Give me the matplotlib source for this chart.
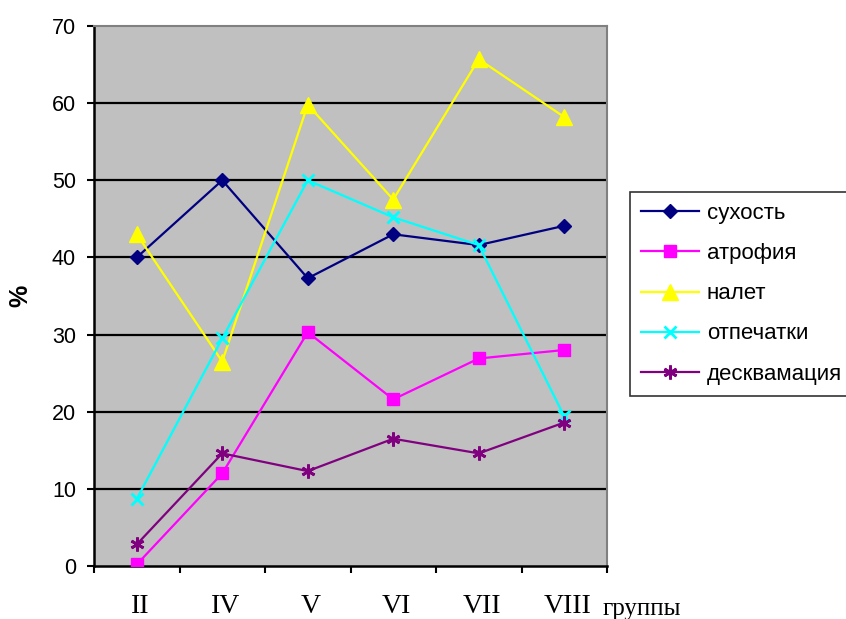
import numpy as np
import matplotlib
matplotlib.use("Agg")
import matplotlib.pyplot as plt

plt.rcParams['font.family'] = ['Liberation Sans', 'DejaVu Sans']

groups = ["II", "IV", "V", "VI", "VII", "VIII"]
dryness = [40.0, 50.0, 37.3, 43.0, 41.6, 44.1]        # сухость
atrophy = [0.2, 12.0, 30.3, 21.6, 26.9, 28.0]         # атрофия
coating = [43.0, 26.5, 59.8, 47.5, 65.7, 58.2]        # налет
imprints = [8.7, 29.5, 50.0, 45.2, 41.6, 19.4]        # отпечатки
desquam = [2.8, 14.6, 12.3, 16.5, 14.6, 18.6]         # десквамация

fig = plt.figure(figsize=(8.46, 6.19), dpi=100)
ax = fig.add_axes([94/846, 1 - 566/619, (607 - 94)/846, (566 - 26)/619])
ax.set_facecolor('#C0C0C0')

x = np.arange(len(groups)) + 0.5
lw = 1.6
ax.plot(x, dryness, '-', color='#000080', lw=lw, marker='D', ms=7, label='сухость', zorder=3)
ax.plot(x, atrophy, '-', color='#FF00FF', lw=lw, marker='s', ms=9, label='атрофия', zorder=3)
ax.plot(x, coating, '-', color='#FFFF00', lw=lw, marker='^', ms=11, label='налет', zorder=3)
ax.plot(x, imprints, '-', color='#00FFFF', lw=lw, marker='x', ms=8, mew=2, label='отпечатки', zorder=3)
ax.plot(x, desquam, '-', color='#800080', lw=lw, marker=(6, 2, 0), ms=10, mew=2,
        label='десквамация', zorder=3)

ax.set_xlim(0, len(groups))
ax.set_ylim(0, 70)
ax.set_yticks(range(0, 71, 10))
for v in range(10, 70, 10):
    ax.axhline(v, color='black', lw=1.6, zorder=1)

# category boundaries carry the tick marks, names sit between them
ax.set_xticks(range(len(groups) + 1))
ax.set_xticklabels([])
ax.set_xticks(x + 0.04, minor=True)
ax.set_xticklabels(groups, minor=True, family='Liberation Serif', fontsize=20)
ax.tick_params(axis='x', which='minor', length=0, pad=20)
ax.tick_params(axis='x', which='major', direction='out', length=5, width=1.5)
ax.tick_params(axis='y', direction='out', length=5, width=1.5, labelsize=15.5, pad=8)
ax.text(0.992, -0.0907, 'группы', transform=ax.transAxes, family='Liberation Serif',
        fontsize=18, ha='left', va='baseline')

for s in ['left', 'bottom']:
    ax.spines[s].set_color('black')
    ax.spines[s].set_linewidth(1.8)
for s in ['top', 'right']:
    ax.spines[s].set_color('#808080')
    ax.spines[s].set_linewidth(1.5)

ax.set_ylabel('%', fontsize=18, fontweight='bold', labelpad=14)

leg = fig.legend(loc='upper left', bbox_to_anchor=(630/846, 1 - 192/619),
                 fontsize=16, frameon=True, fancybox=False, edgecolor='black',
                 handlelength=2.6, handletextpad=0.35, labelspacing=0.86,
                 borderpad=0.5, borderaxespad=0)
leg.get_frame().set_linewidth(1.2)

fig.savefig('out.png', dpi=100)
plt.close()
